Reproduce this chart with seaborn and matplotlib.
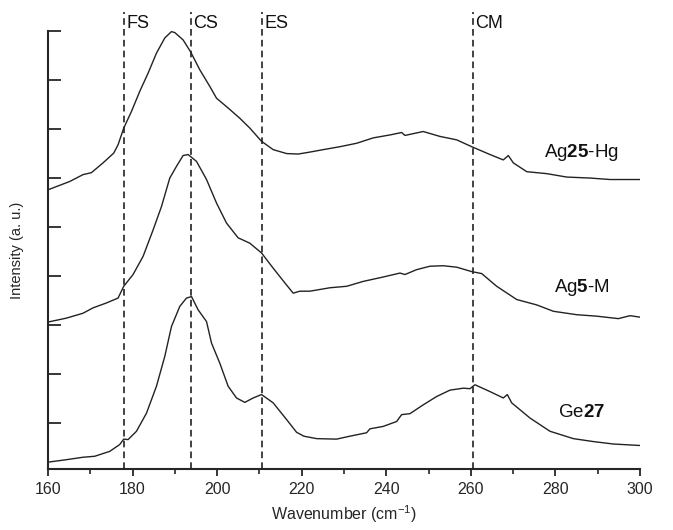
import matplotlib
matplotlib.use("Agg")
import matplotlib.pyplot as plt
import seaborn as sns
import pandas as pd
from matplotlib.ticker import MultipleLocator

# ---- data ----
wn_ag25 = [160.0, 165.14, 168.28, 170.27, 173.02, 175.55, 176.57, 177.91, 179.74, 181.70,
           183.66, 185.65, 187.62, 189.20, 189.98, 191.95, 193.70, 195.90, 198.27, 199.85,
           202.60, 205.37, 207.73, 210.50, 213.25, 216.42, 219.16, 221.93, 225.08, 229.03,
           232.98, 236.91, 240.86, 243.63, 244.41, 248.74, 252.69, 256.65, 260.20, 264.53,
           267.67, 268.86, 270.04, 273.21, 277.94, 282.68, 288.19, 292.92, 300.0]
int_ag25 = [4.76, 4.93, 5.07, 5.11, 5.31, 5.51, 5.68, 6.02, 6.36, 6.77,
            7.14, 7.55, 7.86, 7.99, 7.97, 7.82, 7.58, 7.21, 6.87, 6.63,
            6.43, 6.22, 6.02, 5.75, 5.58, 5.50, 5.49, 5.53, 5.58, 5.64,
            5.71, 5.82, 5.88, 5.93, 5.87, 5.95, 5.85, 5.78, 5.64, 5.48,
            5.37, 5.46, 5.31, 5.13, 5.09, 5.02, 5.00, 4.97, 4.97]

wn_ag5 = [160.0, 164.35, 168.28, 170.65, 173.82, 176.57, 177.91, 180.11, 182.48, 184.85,
          186.84, 188.80, 190.39, 191.95, 193.13, 195.12, 197.49, 199.85, 202.22, 204.96,
          207.73, 210.50, 213.25, 216.01, 217.98, 219.56, 221.93, 226.66, 230.62, 234.54,
          239.28, 243.23, 244.41, 247.18, 250.33, 253.48, 256.65, 260.20, 262.56, 266.11,
          270.85, 275.58, 279.51, 285.04, 289.78, 294.89, 297.66, 300.0]
int_ag5 = [2.06, 2.14, 2.24, 2.35, 2.45, 2.55, 2.79, 3.03, 3.40, 3.94,
           4.42, 5.00, 5.24, 5.46, 5.48, 5.34, 4.97, 4.49, 4.08, 3.78,
           3.67, 3.47, 3.16, 2.86, 2.65, 2.69, 2.69, 2.76, 2.79, 2.89,
           2.98, 3.06, 3.03, 3.13, 3.20, 3.21, 3.18, 3.09, 3.05, 2.79,
           2.52, 2.41, 2.28, 2.21, 2.18, 2.13, 2.19, 2.16]

wn_ge27 = [160.0, 164.35, 168.28, 171.05, 174.60, 176.97, 177.91, 178.93, 180.92, 183.29,
           185.65, 187.62, 189.20, 191.17, 192.75, 193.94, 195.50, 197.49, 198.67, 200.63,
           202.60, 204.58, 206.55, 208.51, 210.50, 213.25, 216.42, 218.78, 220.5, 223.52,
           228.25, 231.40, 235.35, 236.13, 239.28, 242.45, 243.63, 245.60, 248.74, 251.91,
           255.06, 258.21, 259.79, 260.97, 264.53, 267.67, 268.62, 269.66, 273.99, 278.72,
           284.24, 288.97, 293.71, 300.0]
int_ge27 = [-0.80, -0.75, -0.70, -0.68, -0.58, -0.44, -0.33, -0.34, -0.17, 0.20,
            0.75, 1.36, 1.97, 2.38, 2.55, 2.58, 2.31, 2.07, 1.63, 1.22,
            0.75, 0.51, 0.42, 0.51, 0.58, 0.41, 0.07, -0.19, -0.27, -0.32,
            -0.33, -0.27, -0.20, -0.12, -0.07, 0.03, 0.17, 0.19, 0.37, 0.54,
            0.67, 0.71, 0.70, 0.78, 0.64, 0.51, 0.58, 0.41, 0.10, -0.17,
            -0.32, -0.38, -0.43, -0.46]

mode_names = ["FS", "CS", "ES", "CM"]
mode_positions = [178.0, 193.8, 210.6, 260.4]

series_names = ["Ag$\\mathbf{25}$-Hg", "Ag$\\mathbf{5}$-M", "Ge$\\mathbf{27}$"]
label_y = [5.52, 2.76, 0.21]

x_ticks = [160, 180, 200, 220, 240, 260, 280, 300]

# ---- styling ----
sns.set_style("ticks")
plt.rcParams["font.family"] = ["Liberation Sans", "DejaVu Sans"]
plt.rcParams["mathtext.fontset"] = "custom"
plt.rcParams["mathtext.rm"] = "Liberation Sans"
plt.rcParams["mathtext.bf"] = "Liberation Sans:bold"
plt.rcParams["mathtext.it"] = "Liberation Sans:italic"

fig = plt.figure(figsize=(6.73, 5.30), dpi=100)
ax_left, ax_right = 48 / 673, 640 / 673
ax_bottom, ax_top = (530 - 469) / 530, (530 - 12) / 530
ax = fig.add_axes([ax_left, ax_bottom, ax_right - ax_left, ax_top - ax_bottom])

frames = []
for name, w, v in [("ag25", wn_ag25, int_ag25), ("ag5", wn_ag5, int_ag5), ("ge27", wn_ge27, int_ge27)]:
    frames.append(pd.DataFrame({"wn": w, "intensity": v, "sample": name}))
df = pd.concat(frames, ignore_index=True)

for name in ["ag25", "ag5", "ge27"]:
    sub = df[df["sample"] == name]
    sns.lineplot(data=sub, x="wn", y="intensity", ax=ax, color="#222222",
                 linewidth=1.0, sort=False, estimator=None)

ymin, ytop_spine, ymax = -0.94, 8.0, 8.39
ax.set_xlim(160, 300)
ax.set_ylim(ymin, ymax)

for name, pos in zip(mode_names, mode_positions):
    ax.plot([pos, pos], [ymin, ymax], color="#222222", linestyle=(0, (4, 2.5)),
            linewidth=1.2, clip_on=False)
    ax.text(pos + 0.5, 8.15, name, ha="left", va="center", fontsize=13, color="#111111")

for name, y in zip(series_names, label_y):
    ax.text(286.2, y, name, ha="center", va="center", fontsize=13.5, color="#111111")

ax.spines["top"].set_visible(False)
ax.spines["right"].set_visible(False)
ax.spines["left"].set_bounds(ymin, ytop_spine)
ax.spines["left"].set_linewidth(1.5)
ax.spines["bottom"].set_linewidth(1.5)

ax.set_xticks(x_ticks)
ax.xaxis.set_minor_locator(MultipleLocator(10))
ax.set_yticks(list(range(0, 9)))
ax.set_yticklabels([])
ax.tick_params(axis="x", which="major", direction="out", length=5, width=1.3,
               labelsize=11.5, pad=4)
ax.tick_params(axis="x", which="minor", direction="out", length=3.5, width=1.2)
ax.tick_params(axis="y", which="major", direction="in", length=9, width=1.3)

ax.set_xlabel("Wavenumber (cm$^{-1}$)", fontsize=11.5, labelpad=5)
ax.set_ylabel("Intensity (a. u.)", fontsize=10.5)
ax.yaxis.set_label_coords(-0.04, (0.5 * (ymin + ytop_spine) - ymin) / (ymax - ymin))

fig.savefig("out.png", dpi=100)
